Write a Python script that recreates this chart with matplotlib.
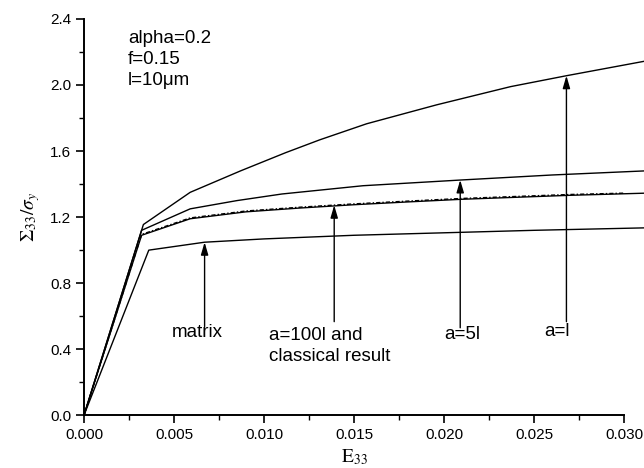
import numpy as np
import matplotlib.pyplot as plt
from matplotlib.ticker import MultipleLocator, FormatStrFormatter

plt.rcParams['font.family'] = ['Liberation Sans', 'DejaVu Sans']
plt.rcParams['mathtext.fontset'] = 'stix'

# macroscopic stress-strain curves, E33 vs Sigma33/sigma_y
eps_matrix = [0.0, 0.0036, 0.0067, 0.010, 0.015, 0.020, 0.025, 0.0312]
sig_matrix = [0.0, 1.00, 1.048, 1.068, 1.090, 1.105, 1.120, 1.135]

eps_a100 = [0.0, 0.0032, 0.0059, 0.009, 0.012, 0.015, 0.018, 0.021, 0.024, 0.027, 0.0312]
sig_a100 = [0.0, 1.09, 1.19, 1.232, 1.255, 1.275, 1.292, 1.308, 1.320, 1.332, 1.345]

eps_classic = [0.0, 0.0032, 0.0059, 0.009, 0.012, 0.015, 0.018, 0.021, 0.024, 0.027, 0.0300]
sig_classic = [0.0, 1.095, 1.195, 1.237, 1.260, 1.280, 1.297, 1.313, 1.325, 1.337, 1.345]

eps_a5 = [0.0, 0.0032, 0.0059, 0.0085, 0.011, 0.0155, 0.021, 0.026, 0.0312]
sig_a5 = [0.0, 1.12, 1.25, 1.30, 1.34, 1.39, 1.425, 1.455, 1.48]

eps_a1 = [0.0, 0.0033, 0.0059, 0.0087, 0.0112, 0.0131, 0.0157, 0.0196, 0.0237, 0.0268, 0.0312]
sig_a1 = [0.0, 1.155, 1.35, 1.48, 1.59, 1.668, 1.765, 1.88, 1.99, 2.056, 2.145]

# arrow labels: text, text position, arrow x, arrow start y, arrow tip y
labels = ['matrix', 'a=100l and\nclassical result', 'a=5l', 'a=l']
label_x = [0.0063, 0.0103, 0.0210, 0.0263]
label_y = [0.50, 0.42, 0.487, 0.507]
arrow_x = [0.0067, 0.0139, 0.0209, 0.0268]
arrow_y0 = [0.537, 0.567, 0.53, 0.567]
arrow_y1 = [1.048, 1.272, 1.425, 2.056]

fig = plt.figure(figsize=(6.44, 4.68), dpi=100)
ax = fig.add_axes([0.1304, 0.1126, 0.8386, 0.847])

kw = dict(color='black', lw=1.0, clip_on=False)
ax.plot(eps_matrix, sig_matrix, **kw)
ax.plot(eps_a100, sig_a100, **kw)
ax.plot(eps_classic, sig_classic, color='black', lw=1.0, ls=(0, (3, 1.5, 1, 1.5)),
        clip_on=False)
ax.plot(eps_a5, sig_a5, **kw)
ax.plot(eps_a1, sig_a1, **kw)

for i, txt in enumerate(labels):
    if '\n' in txt:
        ax.text(label_x[i], label_y[i], txt, fontsize=13.5, ha='left', va='center',
                linespacing=1.25)
    else:
        ax.text(label_x[i], label_y[i], txt, fontsize=13.5, ha='center', va='center')
    ax.annotate('', xy=(arrow_x[i], arrow_y1[i]), xytext=(arrow_x[i], arrow_y0[i]),
                arrowprops=dict(arrowstyle='-|>,head_length=0.75,head_width=0.22',
                                color='black', lw=1.0, shrinkA=0, shrinkB=0))

ax.text(0.00244, 2.33, 'alpha=0.2\nf=0.15\nl=10\u03bcm', fontsize=13.5,
        ha='left', va='top', linespacing=1.3)

ax.set_xlim(0, 0.030)
ax.set_ylim(0, 2.4)
ax.xaxis.set_major_locator(MultipleLocator(0.005))
ax.xaxis.set_minor_locator(MultipleLocator(0.0025))
ax.yaxis.set_major_locator(MultipleLocator(0.4))
ax.yaxis.set_minor_locator(MultipleLocator(0.2))
ax.xaxis.set_major_formatter(FormatStrFormatter('%.3f'))
ax.yaxis.set_major_formatter(FormatStrFormatter('%.1f'))

for s in ['top', 'right']:
    ax.spines[s].set_visible(False)
for s in ['left', 'bottom']:
    ax.spines[s].set_linewidth(1.4)

ax.tick_params(which='major', direction='out', length=5.5, width=1.2, labelsize=11)
ax.tick_params(which='minor', direction='out', length=3.5, width=1.0)

ax.set_xlabel(r'$\mathrm{E}_{33}$', fontsize=14, labelpad=4)
ax.set_ylabel(r'$\Sigma_{33}/\sigma_y$', fontsize=14, labelpad=6)

fig.savefig('out.png', dpi=100)
